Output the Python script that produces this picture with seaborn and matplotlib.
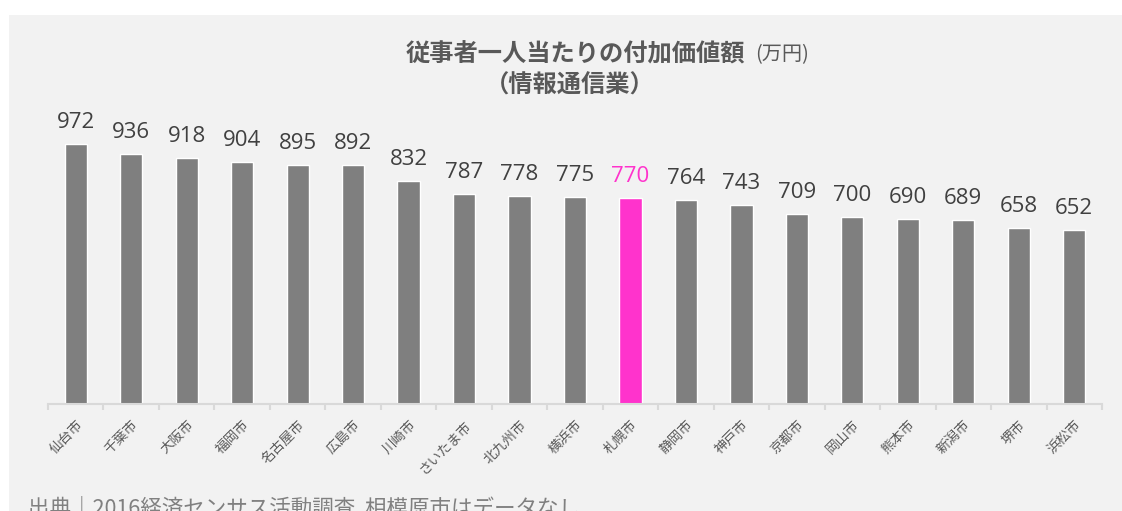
import matplotlib
matplotlib.use("Agg")
import matplotlib.pyplot as plt
from matplotlib.patches import Rectangle
import seaborn as sns

# 従事者一人当たりの付加価値額（情報通信業, 万円）
cities = ["仙台市", "千葉市", "大阪市", "福岡市", "名古屋市", "広島市", "川崎市",
          "さいたま市", "北九州市", "横浜市", "札幌市", "静岡市", "神戸市", "京都市",
          "岡山市", "熊本市", "新潟市", "堺市", "浜松市"]
values = [972, 936, 918, 904, 895, 892, 832, 787, 778, 775, 770, 764, 743, 709,
          700, 690, 689, 658, 652]
highlight = "札幌市"

GRAY_BAR = "#7f7f7f"
PINK = "#ff33cc"
bar_colors = [PINK if c == highlight else GRAY_BAR for c in cities]
label_colors = [PINK if c == highlight else "#404040" for c in cities]

sns.set_theme(style="white")
plt.rcParams["font.family"] = ["Noto Sans CJK JP", "DejaVu Sans"]

W, H = 1122, 511
fig = plt.figure(figsize=(W / 100, H / 100), dpi=100, facecolor="white")
fig.patches.append(Rectangle((9 / W, 0), (W - 9) / W, (H - 15) / H,
                             transform=fig.transFigure, facecolor="#f2f2f2",
                             edgecolor="none", zorder=-10))

ax = fig.add_axes([48 / W, 107 / H, 1054 / W, 304 / H])
ax.set_facecolor("none")

sns.barplot(x=cities, y=values, hue=cities, palette=bar_colors, legend=False,
            width=0.4, saturation=1, ax=ax)

ax.set_xlim(-0.5, len(cities) - 0.5)
ax.set_ylim(0, 1136.6)

for i, (v, col) in enumerate(zip(values, label_colors)):
    ax.annotate(str(v), xy=(i, v), xytext=(0, 11.5), textcoords="offset points",
                ha="center", va="baseline", fontsize=16, color=col,
                family=["Open Sans", "DejaVu Sans"])

for s in ["top", "right", "left"]:
    ax.spines[s].set_visible(False)
ax.spines["bottom"].set_color("#d9d9d9")
ax.spines["bottom"].set_linewidth(1.5)
ax.set_yticks([])
ax.set_xlabel("")
ax.set_ylabel("")

ax.set_xticks(range(len(cities)))
ax.set_xticklabels(cities, rotation=45, ha="right", va="top",
                   rotation_mode="anchor", fontsize=9.8, color="#595959")
ax.tick_params(axis="x", which="major", length=0, pad=10)
ax.set_xticks([i - 0.5 for i in range(len(cities) + 1)], minor=True)
ax.tick_params(axis="x", which="minor", length=4, width=1.5, color="#d9d9d9",
               direction="out", bottom=True)

fig.text(406 / W, 1 - 61 / H, "従事者一人当たりの付加価値額", ha="left",
         va="baseline", fontsize=17.5, fontweight="bold", color="#595959")
fig.text(755 / W, 1 - 60 / H, "(万円)", ha="left", va="baseline",
         fontsize=14.5, color="#595959")
fig.text(570 / W, 1 - 93 / H, "（情報通信業）", ha="center", va="baseline",
         fontsize=17.5, fontweight="bold", color="#595959")

fig.text(28 / W, 1 - 514 / H, "出典｜2016経済センサス活動調査  相模原市はデータなし",
         ha="left", va="baseline", fontsize=15.5, color="#808080")

fig.savefig("out.png", dpi=100, facecolor=fig.get_facecolor())
